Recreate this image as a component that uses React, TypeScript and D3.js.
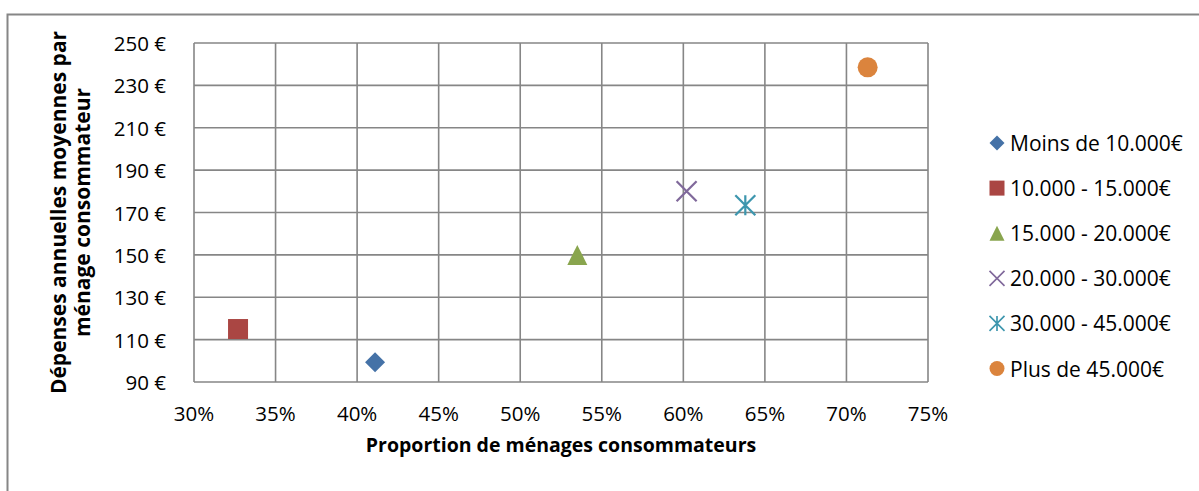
import React from "react";
import * as d3 from "d3";

const seriesNames = [
  "Moins de 10.000€",
  "10.000 - 15.000€",
  "15.000 - 20.000€",
  "20.000 - 30.000€",
  "30.000 - 45.000€",
  "Plus de 45.000€",
];
const proportions = [41.1, 32.7, 53.5, 60.2, 63.8, 71.3];
const depenses = [99.3, 115, 150, 180, 173.4, 238.5];
const colors = ["#4572A7", "#AA4643", "#89A54E", "#80699B", "#3D96AE", "#DB843D"];
const shapes = ["diamond", "square", "triangle", "x", "star", "circle"];
const xTicks = [30, 35, 40, 45, 50, 55, 60, 65, 70, 75];
const yTicks = [90, 110, 130, 150, 170, 190, 210, 230, 250];

const W = 1199;
const H = 491;
const FONT = "'Open Sans', sans-serif";

function Marker({ shape, color, cx, cy, s }: { shape: string; color: string; cx: number; cy: number; s: number }) {
  const h = s / 2;
  if (shape === "diamond") {
    return <path d={`M${cx},${cy - h}L${cx + h},${cy}L${cx},${cy + h}L${cx - h},${cy}Z`} fill={color} />;
  }
  if (shape === "square") {
    return <rect x={cx - h} y={cy - h} width={s} height={s} fill={color} />;
  }
  if (shape === "triangle") {
    return <path d={`M${cx},${cy - h}L${cx + h},${cy + h}L${cx - h},${cy + h}Z`} fill={color} />;
  }
  if (shape === "circle") {
    return <circle cx={cx} cy={cy} r={h} fill={color} />;
  }
  if (shape === "x") {
    return (
      <path
        d={`M${cx - h},${cy - h}L${cx + h},${cy + h}M${cx - h},${cy + h}L${cx + h},${cy - h}`}
        stroke={color}
        strokeWidth={Math.max(1.5, s / 9)}
        fill="none"
      />
    );
  }
  return (
    <path
      d={`M${cx - h},${cy - h}L${cx + h},${cy + h}M${cx - h},${cy + h}L${cx + h},${cy - h}M${cx},${cy - h}L${cx},${cy + h}`}
      stroke={color}
      strokeWidth={Math.max(1.5, s / 9)}
      fill="none"
    />
  );
}

export default function App() {
  const left = 194;
  const right = 928;
  const top = 43;
  const bottom = 382;
  const x = d3.scaleLinear().domain([30, 75]).range([left, right]);
  const y = d3.scaleLinear().domain([90, 250]).range([bottom, top]);
  const fmtX = (v: number) => `${v}%`;
  const fmtY = (v: number) => `${v} €`;
  const legendX = 997;
  const legendY0 = 143;
  const legendStep = 45.1;

  return (
    <svg width={W} height={H} style={{ position: "absolute", left: 0, top: 0, display: "block" }}>
      <rect x={0} y={0} width={W} height={H} fill="#fff" />
      <rect x={7.5} y={14.5} width={W + 10} height={H + 10} fill="none" stroke="#868686" strokeWidth={2} />
      <g stroke="#868686" strokeWidth={1.6}>
        {xTicks.map((t) => (
          <line key={"gx" + t} x1={x(t)} x2={x(t)} y1={top} y2={bottom} />
        ))}
        {yTicks.map((t) => (
          <line key={"gy" + t} x1={left} x2={right} y1={y(t)} y2={y(t)} />
        ))}
      </g>
      <g fontFamily={FONT} fontSize={20.5} fill="#000">
        {xTicks.map((t) => (
          <text key={"tx" + t} x={x(t)} y={421} textAnchor="middle">
            {fmtX(t)}
          </text>
        ))}
        {yTicks.map((t) => (
          <text key={"ty" + t} x={166} y={y(t)} textAnchor="end" dominantBaseline="central">
            {fmtY(t)}
          </text>
        ))}
      </g>
      <text x={(left + right) / 2} y={452} textAnchor="middle" fontFamily={FONT} fontWeight="bold" fontSize={19.5}>
        Proportion de ménages consommateurs
      </text>
      <g transform={`translate(0,${(top + bottom) / 2}) rotate(-90)`} fontFamily={FONT} fontWeight="bold" fontSize={21}>
        <text x={0} y={66} textAnchor="middle">Dépenses annuelles moyennes par</text>
        <text x={0} y={90} textAnchor="middle">ménage consommateur</text>
      </g>
      {seriesNames.map((n, i) => (
        <Marker key={"m" + i} shape={shapes[i]} color={colors[i]} cx={x(proportions[i])} cy={y(depenses[i])} s={20} />
      ))}
      {seriesNames.map((n, i) => (
        <g key={"l" + i}>
          <Marker shape={shapes[i]} color={colors[i]} cx={legendX} cy={legendY0 + i * legendStep} s={15} />
          <text
            x={legendX + 13}
            y={legendY0 + i * legendStep}
            dominantBaseline="central"
            fontFamily={FONT}
            fontSize={21}
          >
            {n}
          </text>
        </g>
      ))}
    </svg>
  );
}
